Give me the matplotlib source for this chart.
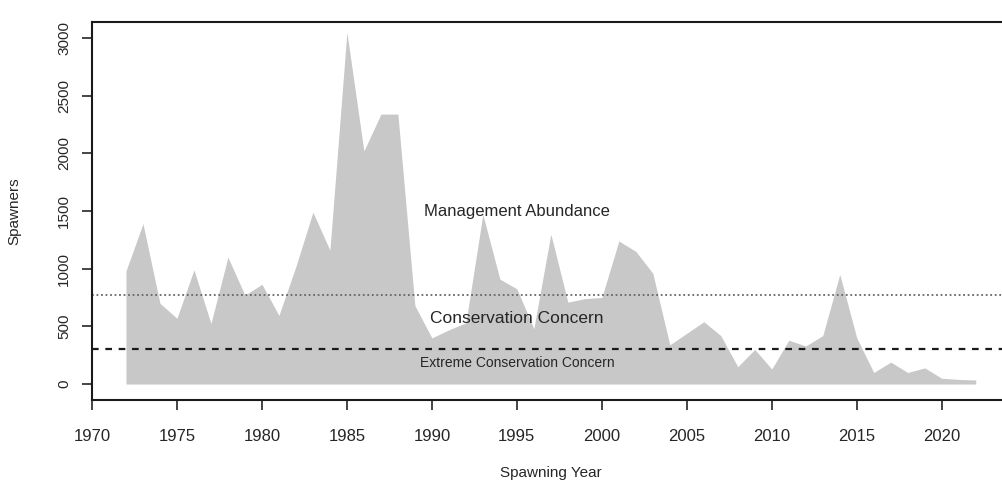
import numpy as np
import matplotlib.pyplot as plt

plt.rcParams['font.family'] = ['Liberation Sans', 'DejaVu Sans']

# Spawner counts
years = np.arange(1972, 2023)
spawners = [980, 1390, 700, 570, 990, 525, 1100, 770, 865, 595,
            1020, 1490, 1160, 3050, 2020, 2340, 2340, 680, 400, 470,
            530, 1470, 910, 825, 480, 1300, 710, 740, 750, 1240,
            1150, 960, 340, 440, 540, 420, 150, 300, 130, 380,
            330, 420, 950, 400, 100, 190, 100, 140, 50, 40,
            35]

management = 775     # dotted reference line
extreme = 300        # dashed reference line

xticks = np.arange(1970, 2021, 5)
yticks = np.arange(0, 3001, 500)

fig = plt.figure(figsize=(10.03, 4.82), dpi=100)
ax = fig.add_axes([0.0917, 0.170, 0.915, 0.784])

ax.fill_between(years, 0, spawners, color='#c8c8c8', lw=0, zorder=1)
ax.axhline(management, color='0.4', lw=1.3, ls=(0, (1, 1.5)), zorder=2)
ax.axhline(extreme, color='0.1', lw=1.6, ls=(0, (3, 3)), zorder=2)

ax.text(1995, 1500, 'Management Abundance', ha='center', va='center', fontsize=12, color='0.15')
ax.text(1995, 570, 'Conservation Concern', ha='center', va='center', fontsize=12.5, color='0.15')
ax.text(1995, 185, 'Extreme Conservation Concern', ha='center', va='center', fontsize=10, color='0.15')

ax.set_xlim(1970, 2024)
ax.set_ylim(-139, 3137)
ax.set_xticks(xticks)
ax.set_yticks(yticks)
ax.tick_params(axis='x', direction='out', length=7, width=1.2, labelsize=12, pad=14, colors='0.15')
ax.tick_params(axis='y', direction='out', length=7, width=1.2, labelsize=11, pad=8, colors='0.15')
for lab in ax.get_yticklabels():
    lab.set_rotation(90)
    lab.set_va('center')

for s in ax.spines.values():
    s.set_linewidth(1.5)
    s.set_color('0.1')

ax.set_xlabel('Spawning Year', fontsize=11, labelpad=16, color='0.15')
ax.set_ylabel('Spawners', fontsize=11, labelpad=26, color='0.15')

fig.savefig('out.png', dpi=100)
